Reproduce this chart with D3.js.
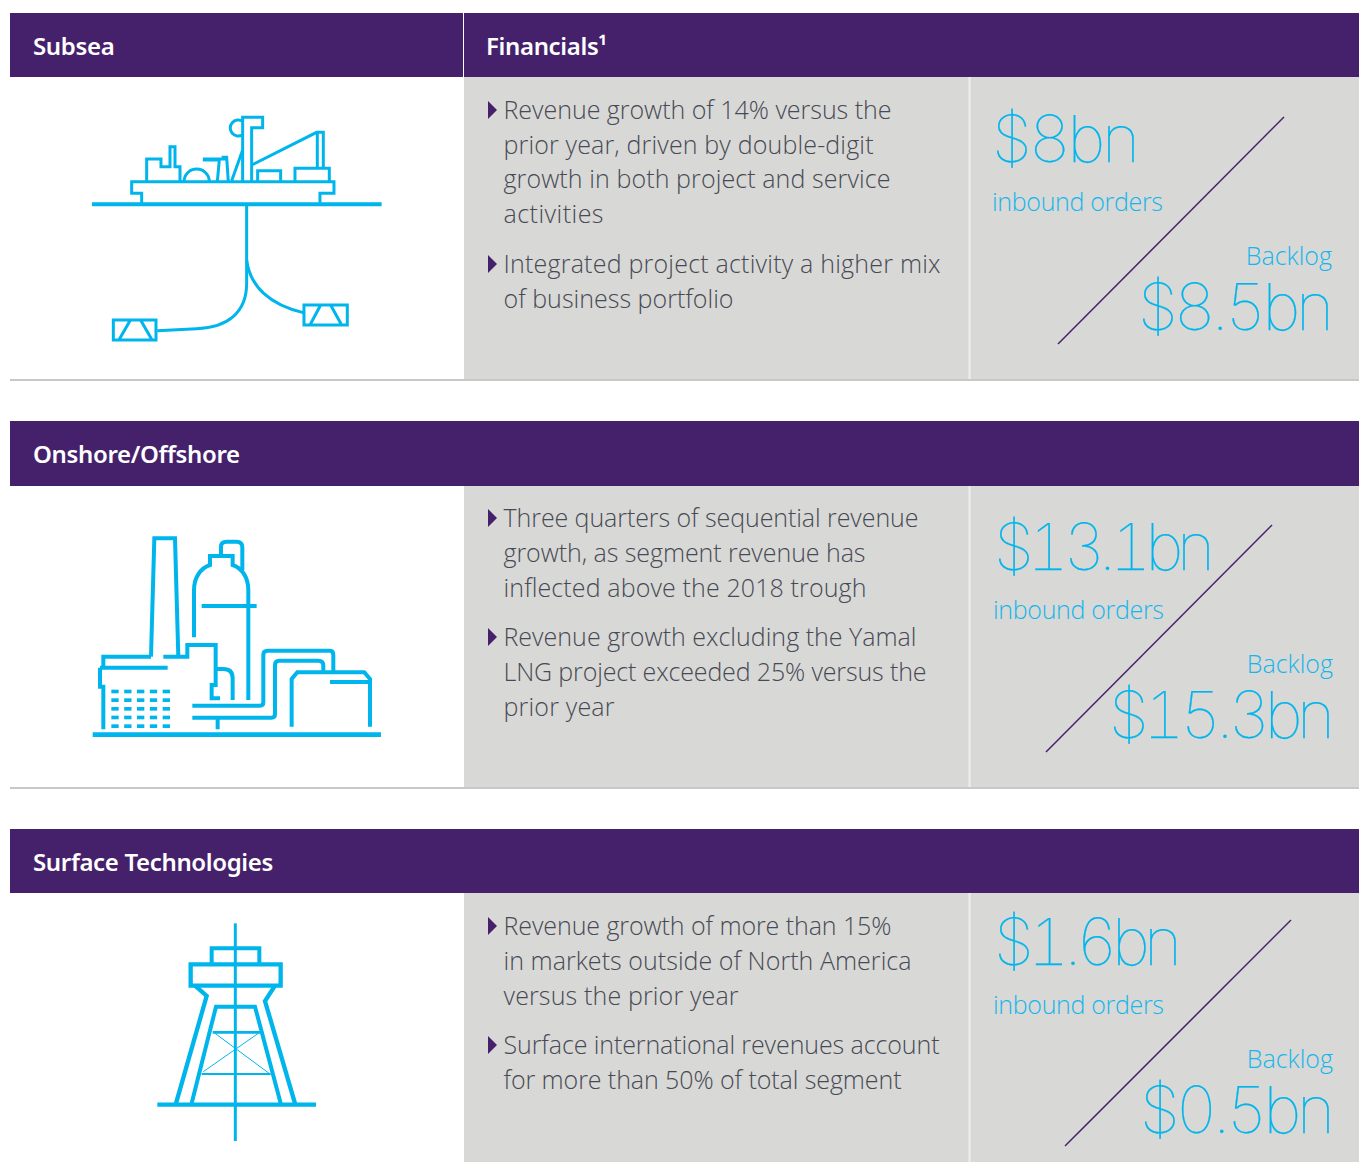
<!DOCTYPE html>
<html>
<head>
<meta charset="utf-8">
<script src="https://cdn.jsdelivr.net/npm/d3@7"></script>
<style>
  html, body { margin: 0; padding: 0; background: #fff; }
  svg { display: block; }
  text { font-family: "Open Sans", sans-serif; }
  .head { fill: #fff; font-size: 24px; font-weight: 600; font-family: "Noto Sans", sans-serif; letter-spacing: -0.35px; }
  .body { fill: #474a54; font-size: 25px; font-weight: 300; }
  .big { fill: #00b5ec; stroke: #00b5ec; stroke-width: 0.25px; font-size: 65px; font-family: "Inter", sans-serif; font-weight: 100; font-feature-settings: "tnum"; }
  .small { fill: #14b6ec; font-size: 25px; font-weight: 300; }
  .icon path { fill: none; stroke: #00b5ec; stroke-linejoin: miter; }
</style>
</head>
<body>
<script>
var width = 1359;
var height = 1162;

// text and values
var segments = ['Subsea', 'Onshore/Offshore', 'Surface Technologies'];
var inboundOrders = ['$8bn', '$13.1bn', '$1.6bn'];
var backlog = ['$8.5bn', '$15.3bn', '$0.5bn'];
var bullets = [
  [['Revenue growth of 14% versus the', 'prior year, driven by double-digit', 'growth in both project and service', 'activities'],
   ['Integrated project activity a higher mix', 'of business portfolio']],
  [['Three quarters of sequential revenue', 'growth, as segment revenue has', 'inflected above the 2018 trough'],
   ['Revenue growth excluding the Yamal', 'LNG project exceeded 25% versus the', 'prior year']],
  [['Revenue growth of more than 15%', 'in markets outside of North America', 'versus the prior year'],
   ['Surface international revenues account', 'for more than 50% of total segment']]
];
// rendered widths of the lines above, the reference font is not installed
var bulletWidths = [
  [[388, 370, 387, 100], [437, 230]],
  [[415, 362, 363], [413, 423, 111]],
  [[388, 408, 235], [436, 398]]
];
var inboundWidths = [143, 216, 183];
var backlogWidths = [191, 221, 190];

// layout of the three rows
var rows = [
  { top: 13, head: 77, bottom: 380, slash: [1284, 117, 1058, 344], bulletY: [119, 273], step: 34.7, bigY: 162, inX: 992, bigX: 992, right: 1332, icon: [80, 100] },
  { top: 421, head: 486, bottom: 788, slash: [1272, 525, 1046, 752], bulletY: [527, 646], step: 35, bigY: 570, inX: 993, bigX: 994, right: 1333, icon: [80, 520] },
  { top: 829, head: 893, bottom: 1162, slash: [1291, 920, 1065, 1146], bulletY: [935, 1054], step: 35, bigY: 965, inX: 993, bigX: 994, right: 1333, icon: [140, 915] }
];

var purple = '#46216b';
var grey = '#d8d8d6';

// icons, drawn in a 3x space
var iconPaths = [
  [
    { w: 9, d: 'M185,310V280H155V245H762V280H720V310' },
    { w: 12, d: 'M36,313H905' },
    { w: 9, d: 'M200,245V177H243V200H270V140H285V200H300V245' },
    { w: 9, d: 'M312,245A38,38 0 0 1 388,245' },
    { w: 9, d: 'M412,245L418,180H373V177H440V172H425M440,172L445,245' },
    { w: 9, d: 'M455,242L488,150' },
    { w: 9, d: 'M488,245V52H548V83H515V245' },
    { w: 9, d: 'M488,104A24,24 0 1 1 488,64' },
    { w: 9, d: 'M515,195L710,97H730V205M712,97V205' },
    { w: 9, d: 'M645,245V205H748V245M533,245V212H602V245' },
    { w: 9, d: 'M500,315V550C500,640 440,683 350,686L232,692' },
    { w: 9, d: 'M500,480C510,560 570,615 670,638' },
    { w: 9, d: 'M100,660H228V720H100ZM118,718L150,662M183,662L215,718' },
    { w: 9, d: 'M672,615H802V675H672ZM690,675L722,615M752,615L785,675' }
  ],
  [
    { w: 14, d: 'M38,644H903' },
    { w: 12, d: 'M213,410L223,55H285L295,410' },
    { w: 12, d: 'M70,440V410H213M250,410H322V375H407V495H395V535H420' },
    { w: 12, d: 'M60,443H263M60,443V500H70V628' },
    { w: 12, d: 'M342,352V210C342,175 360,145 390,135V108H458V135C488,145 505,175 505,210V540M365,258H530' },
    { w: 12, d: 'M423,108V80Q423,65 440,65H470Q487,65 487,82V150' },
    { w: 12, d: 'M407,447H430Q458,447 458,475V540' },
    { w: 12, d: 'M337,557H540Q550,557 550,547V405Q550,392 563,392H750Q760,392 760,405V455' },
    { w: 12, d: 'M337,593H575Q585,593 585,583V435Q585,422 598,422H715Q730,422 730,437V455' },
    { w: 12, d: 'M635,620V477L652,457H853L870,477V620M750,486H870M413,593V628' }
  ],
  [
    { w: 9, d: 'M286,25V678' },
    { w: 13, d: 'M52,569H528' },
    { w: 12, d: 'M215,145V100H358V145' },
    { w: 13, d: 'M152,148H422V212H152Z' },
    { w: 13, d: 'M165,212L200,243L108,565M405,212L375,258L465,565' },
    { w: 12, d: 'M155,565L228,275H345L422,565' },
    { w: 8, d: 'M218,352H360' },
    { w: 6, d: 'M185,477H392' },
    { w: 3, d: 'M225,355L390,477M355,355L190,470' }
  ]
];

var svg = d3.select('body')
  .append('svg')
  .attr('width', width)
  .attr('height', height);

var row = svg.selectAll('g.row')
  .data(rows)
  .enter()
  .append('g')
  .attr('class', 'row');

// grey panel, purple header
row.append('rect')
  .attr('x', 464).attr('y', function(d) { return d.head; })
  .attr('width', width - 464)
  .attr('height', function(d) { return d.bottom - d.head; })
  .attr('fill', grey);

row.append('rect')
  .attr('x', 10).attr('y', function(d) { return d.top; })
  .attr('width', width - 10)
  .attr('height', function(d) { return d.head - d.top; })
  .attr('fill', purple);

row.append('rect')
  .attr('x', 968.5).attr('y', function(d) { return d.head; })
  .attr('width', 2)
  .attr('height', function(d) { return d.bottom - d.head; })
  .attr('fill', '#efefee');

row.filter(function(d) { return d.bottom < height; })
  .append('rect')
  .attr('x', 10).attr('y', function(d) { return d.bottom - 1; })
  .attr('width', width - 10)
  .attr('height', 2)
  .attr('fill', '#c8c8c6');

row.append('text')
  .attr('class', 'head')
  .attr('x', 33)
  .attr('y', function(d) { return d.top + 42; })
  .text(function(d, i) { return segments[i]; });

// first header has a second column
svg.append('rect').attr('x', 463).attr('y', 13).attr('width', 1).attr('height', 64).attr('fill', '#fff');
svg.append('text').attr('class', 'head').attr('x', 486).attr('y', 55).text('Financials\u00b9');

// bullets
row.each(function(d, i) {
  var g = d3.select(this);
  bullets[i].forEach(function(lines, b) {
    var y0 = d.bulletY[b];
    g.append('path')
      .attr('d', 'M488,' + (y0 - 18) + 'L497,' + (y0 - 9) + 'L488,' + y0 + 'Z')
      .attr('fill', purple);
    lines.forEach(function(t, k) {
      g.append('text').attr('class', 'body')
        .attr('x', 503.5)
        .attr('y', y0 + k * d.step)
        .attr('textLength', bulletWidths[i][b][k])
        .text(t);
    });
  });
});

// diagonal
row.append('line')
  .attr('x1', function(d) { return d.slash[0]; })
  .attr('y1', function(d) { return d.slash[1]; })
  .attr('x2', function(d) { return d.slash[2]; })
  .attr('y2', function(d) { return d.slash[3]; })
  .attr('stroke', purple)
  .attr('stroke-width', 1.5);

// orders and backlog
row.append('text').attr('class', 'big')
  .attr('x', function(d) { return d.bigX; })
  .attr('y', function(d) { return d.bigY; })
  .attr('textLength', function(d, i) { return inboundWidths[i] + 5; })
  .text(function(d, i) { return inboundOrders[i]; });

row.append('text').attr('class', 'small')
  .attr('x', function(d) { return d.inX; })
  .attr('y', function(d) { return d.bigY + 49; })
  .attr('textLength', 171)
  .text('inbound orders');

row.append('text').attr('class', 'small')
  .attr('x', function(d) { return d.right; })
  .attr('y', function(d) { return d.bigY + 103; })
  .attr('text-anchor', 'end')
  .text('Backlog');

row.append('text').attr('class', 'big')
  .attr('x', function(d, i) { return d.right - 1 - backlogWidths[i] - 2; })
  .attr('y', function(d) { return d.bigY + 168; })
  .attr('textLength', function(d, i) { return backlogWidths[i] + 5; })
  .text(function(d, i) { return backlog[i]; });

// icons
var icon = row.append('g')
  .attr('class', 'icon')
  .attr('transform', function(d) { return 'translate(' + d.icon[0] + ',' + d.icon[1] + ') scale(0.3333)'; });

icon.each(function(d, i) {
  d3.select(this).selectAll('path')
    .data(iconPaths[i])
    .enter()
    .append('path')
    .attr('stroke-width', function(p) { return p.w; })
    .attr('d', function(p) { return p.d; });
});

// window grid of the plant
var plant = d3.select(icon.nodes()[1]);
d3.range(5).forEach(function(r) {
  d3.range(5).forEach(function(c) {
    plant.append('rect')
      .attr('x', 94 + c * 38.5)
      .attr('y', 509 + r * 26)
      .attr('width', 22)
      .attr('height', 11)
      .attr('fill', '#00b5ec');
  });
});
</script>
</body>
</html>
